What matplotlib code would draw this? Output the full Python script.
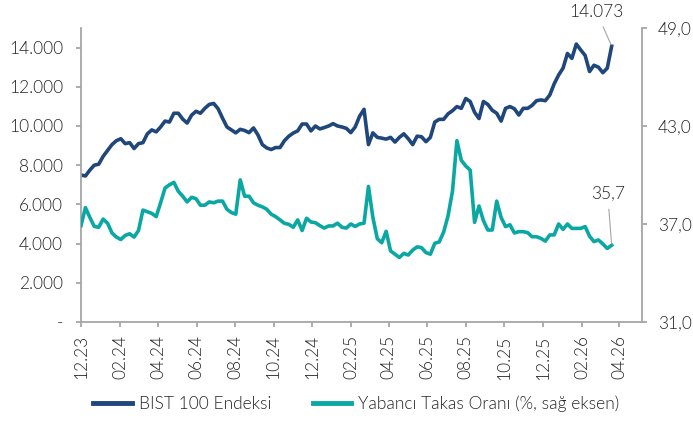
import pandas as pd
import matplotlib.pyplot as plt

# weekly observations, Dec 2023 - Mar 2026
dates = pd.date_range('2023-12-01', periods=121, freq='7D')

bist100 = [
    7500, 7450, 7750, 8000, 8050, 8450, 8750, 9050, 9250, 9350,
    9100, 9150, 8850, 9100, 9150, 9600, 9800, 9700, 9950, 10250,
    10200, 10650, 10650, 10350, 10150, 10550, 10750, 10650, 10900, 11100,
    11150, 10880, 10400, 9950, 9800, 9650, 9830, 9770, 9660, 9900,
    9550, 9050, 8880, 8800, 8900, 8900, 9250, 9480, 9640, 9750,
    10100, 10100, 9750, 10000, 9850, 9920, 10000, 10120, 10000, 9950,
    9880, 9660, 9950, 10500, 10850, 9050, 9650, 9420, 9380, 9330,
    9420, 9180, 9420, 9600, 9350, 9050, 9480, 9450, 9200, 9420,
    10200, 10340, 10340, 10620, 10780, 10990, 10900, 11400, 11250, 10700,
    10380, 11250, 11100, 10800, 10650, 10250, 10900, 10990, 10880, 10560,
    10900, 10900, 11050, 11290, 11330, 11290, 11580, 12150, 12600, 12950,
    13700, 13450, 14180, 13880, 13600, 12780, 13100, 13000, 12720, 12950,
    14073,
]

takas = [
    36.90, 38.00, 37.40, 36.85, 36.80, 37.30, 37.05, 36.45, 36.20, 36.05,
    36.30, 36.40, 36.20, 36.60, 37.85, 37.75, 37.65, 37.45, 38.30, 39.20,
    39.40, 39.55, 39.00, 38.70, 38.35, 38.63, 38.55, 38.15, 38.15, 38.35,
    38.30, 38.40, 38.40, 37.90, 37.70, 37.60, 39.70, 38.70, 38.70, 38.30,
    38.15, 38.05, 37.90, 37.60, 37.45, 37.25, 37.04, 36.98, 36.80, 37.25,
    36.60, 37.35, 37.12, 37.08, 36.90, 36.75, 36.88, 36.88, 37.05, 36.80,
    36.75, 37.00, 36.85, 37.00, 37.05, 39.30, 37.40, 36.10, 35.85, 36.55,
    35.35, 35.15, 34.95, 35.20, 35.10, 35.40, 35.60, 35.55, 35.25, 35.15,
    35.82, 35.90, 36.50, 37.50, 39.00, 42.10, 40.90, 40.55, 40.30, 37.10,
    38.10, 37.20, 36.63, 36.63, 38.40, 37.40, 36.84, 36.95, 36.45, 36.53,
    36.53, 36.47, 36.22, 36.22, 36.12, 35.95, 36.33, 36.33, 37.00, 36.67,
    37.00, 36.73, 36.73, 36.73, 36.84, 36.25, 35.92, 36.02, 35.78, 35.50,
    35.70,
]

left_ticks = [0, 2000, 4000, 6000, 8000, 10000, 12000, 14000]
left_labels = ['-', '2.000', '4.000', '6.000', '8.000', '10.000', '12.000', '14.000']
right_ticks = [31, 37, 43, 49]
right_labels = ['31,0', '37,0', '43,0', '49,0']
x_ticks = pd.date_range('2023-12-01', '2026-04-01', freq='2MS')
x_labels = [d.strftime('%m.%y') for d in x_ticks]

blue = '#1f477b'
teal = '#0ba7a3'
grey = '#a6a6a6'
txt = '#262626'

plt.rcParams['font.family'] = ['Lato', 'DejaVu Sans']
plt.rcParams['font.weight'] = 300
plt.rcParams['font.size'] = 12.5

fig = plt.figure(figsize=(6.93, 4.21), dpi=100)
ax = fig.add_axes([0.1169, 0.2352, 0.8095, 0.6983])
ax2 = ax.twinx()

l1, = ax.plot(dates, bist100, color=blue, lw=2.6, solid_joinstyle='round', label='BIST 100 Endeksi')
l2, = ax2.plot(dates, takas, color=teal, lw=2.6, solid_joinstyle='round',
               label='Yabancı Takas Oranı (%, sağ eksen)')

ax.set_xlim(pd.Timestamp('2023-12-01'), pd.Timestamp('2026-05-07'))
ax.set_ylim(0, 15000)
ax2.set_ylim(31, 49)

ax.set_yticks(left_ticks)
ax.set_yticklabels(left_labels)
ax2.set_yticks(right_ticks)
ax2.set_yticklabels(right_labels)
ax.set_xticks(x_ticks)
ax.set_xticklabels(x_labels, rotation=90)

for a in (ax, ax2):
    a.spines['top'].set_visible(False)
    for s in ('left', 'right', 'bottom'):
        a.spines[s].set_color(grey)
        a.spines[s].set_linewidth(1.3)
    a.tick_params(colors=grey, labelcolor=txt, length=3.6, width=1.3)
ax.spines['right'].set_visible(False)
ax2.spines['left'].set_visible(False)
ax2.spines['bottom'].set_visible(False)
ax.tick_params(axis='y', pad=9.4)
ax.tick_params(axis='x', pad=6)
ax2.tick_params(axis='y', pad=8)

ax.annotate('14.073', xy=(dates[-1], bist100[-1]), xytext=(-15, 34),
            textcoords='offset pixels', ha='center', va='center', color=txt,
            arrowprops=dict(arrowstyle='-', color=grey, lw=0.8, shrinkA=3, shrinkB=1))
ax2.annotate('35,7', xy=(dates[-1], takas[-1]), xytext=(-4, 51),
             textcoords='offset pixels', ha='center', va='center', color=txt,
             arrowprops=dict(arrowstyle='-', color=grey, lw=0.8, shrinkA=3, shrinkB=1))

leg = fig.legend([l1, l2], [l1.get_label(), l2.get_label()], loc='center',
                 bbox_to_anchor=(0.514, 0.041), ncol=2, frameon=False,
                 handlelength=2.2, handletextpad=0.4, columnspacing=2.4)
for t in leg.get_texts():
    t.set_color(txt)
for h in leg.get_lines():
    h.set_linewidth(3.5)

fig.savefig('out.png', dpi=100)
